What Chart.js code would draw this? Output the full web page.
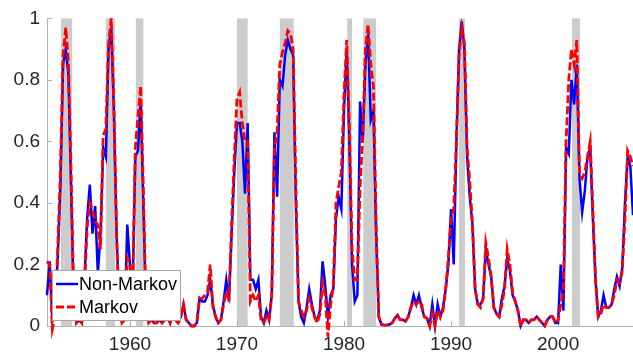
<!DOCTYPE html>
<html>
<head>
<meta charset="utf-8">
<script src="https://cdn.jsdelivr.net/npm/chart.js@4.4.1/dist/chart.umd.min.js"></script>
<style>
  html, body { margin: 0; padding: 0; background: #fff; }
  #wrap { width: 633px; height: 363px; }
</style>
</head>
<body>
<div id="wrap"><canvas id="chart1" width="633" height="363"></canvas></div>
<script>
// quarterly series, first quarter 1952Q2
const startYear = 1952.25;

const nonMarkov = [
  0.10, 0.21, 0.02, 0.05, 0.22, 0.45, 0.85, 0.90, 0.82, 0.45,
  0.08, 0.01, 0.02, 0.01, 0.15, 0.35, 0.46, 0.30, 0.39, 0.17,
  0.30, 0.58, 0.55, 0.90, 0.97, 0.70, 0.30, 0.05, 0.02, 0.02,
  0.33, 0.20, 0.12, 0.55, 0.57, 0.73, 0.40, 0.05, 0.02, 0.02,
  0.01, 0.01, 0.02, 0.01, 0.02, 0.03, 0.01, 0.04, 0.02, 0.01,
  0.03, 0.07, 0.02, 0.01, 0.00, 0.00, 0.01, 0.09, 0.08, 0.08,
  0.10, 0.15, 0.07, 0.03, 0.01, 0.02, 0.08, 0.15, 0.08, 0.30,
  0.50, 0.66, 0.66, 0.60, 0.43, 0.66, 0.15, 0.15, 0.12, 0.15,
  0.03, 0.01, 0.05, 0.02, 0.10, 0.63, 0.42, 0.80, 0.78, 0.88,
  0.93, 0.90, 0.88, 0.40, 0.08, 0.03, 0.01, 0.06, 0.12, 0.07,
  0.03, 0.02, 0.05, 0.21, 0.13, 0.03, 0.10, 0.12, 0.35, 0.42,
  0.38, 0.70, 0.90, 0.60, 0.20, 0.08, 0.10, 0.73, 0.60, 0.85,
  0.95, 0.67, 0.70, 0.30, 0.03, 0.005, 0.003, 0.003, 0.005, 0.01,
  0.025, 0.035, 0.02, 0.02, 0.015, 0.03, 0.06, 0.10, 0.07, 0.10,
  0.06, 0.03, 0.025, 0.00, 0.07, 0.00, 0.07, 0.03, 0.06, 0.12,
  0.20, 0.38, 0.20, 0.60, 0.90, 0.99, 0.90, 0.55, 0.42, 0.33,
  0.12, 0.07, 0.07, 0.09, 0.25, 0.20, 0.16, 0.06, 0.04, 0.03,
  0.09, 0.13, 0.22, 0.18, 0.10, 0.08, 0.05, 0.00, 0.02, 0.02,
  0.01, 0.02, 0.02, 0.03, 0.02, 0.01, 0.00, 0.02, 0.03, 0.03,
  0.01, 0.01, 0.20, 0.05, 0.58, 0.56, 0.80, 0.72, 0.85, 0.48,
  0.37, 0.44, 0.55, 0.58, 0.35, 0.15, 0.03, 0.05, 0.10, 0.06,
  0.06, 0.07, 0.12, 0.16, 0.13, 0.19, 0.40, 0.55, 0.52, 0.36
];

const markov = [
  0.21, 0.20, -0.01, 0.03, 0.25, 0.50, 0.88, 0.97, 0.86, 0.50,
  0.10, 0.01, 0.02, 0.01, 0.13, 0.32, 0.40, 0.38, 0.34, 0.33,
  0.25, 0.62, 0.64, 0.92, 1.00, 0.72, 0.30, 0.05, 0.01, 0.02,
  0.22, 0.20, 0.10, 0.58, 0.68, 0.78, 0.45, 0.05, 0.01, 0.02,
  0.01, 0.01, 0.02, 0.01, 0.02, 0.03, 0.01, 0.04, 0.02, 0.01,
  0.03, 0.07, 0.02, 0.01, 0.00, 0.00, 0.01, 0.09, 0.09, 0.10,
  0.11, 0.20, 0.06, 0.03, 0.01, 0.02, 0.07, 0.11, 0.09, 0.33,
  0.55, 0.74, 0.76, 0.66, 0.60, 0.60, 0.08, 0.10, 0.08, 0.10,
  0.02, 0.01, 0.03, 0.02, 0.10, 0.58, 0.63, 0.85, 0.89, 0.92,
  0.96, 0.95, 0.90, 0.45, 0.08, 0.05, 0.03, 0.05, 0.09, 0.06,
  0.03, 0.01, 0.04, 0.14, 0.10, -0.035, 0.07, 0.13, 0.40, 0.45,
  0.50, 0.75, 0.93, 0.65, 0.25, 0.15, 0.15, 0.45, 0.62, 0.90,
  0.98, 0.85, 0.78, 0.33, 0.03, 0.005, 0.003, 0.003, 0.005, 0.01,
  0.025, 0.035, 0.02, 0.02, 0.015, 0.03, 0.06, 0.08, 0.07, 0.08,
  0.07, 0.03, 0.025, 0.00, 0.04, 0.00, 0.05, 0.03, 0.05, 0.12,
  0.22, 0.35, 0.38, 0.60, 0.88, 0.97, 0.92, 0.58, 0.47, 0.33,
  0.12, 0.07, 0.06, 0.09, 0.27, 0.22, 0.16, 0.06, 0.04, 0.03,
  0.07, 0.12, 0.25, 0.20, 0.11, 0.08, 0.05, 0.00, 0.02, 0.02,
  0.01, 0.02, 0.02, 0.03, 0.02, 0.01, 0.00, 0.02, 0.03, 0.03,
  0.01, 0.02, 0.07, 0.12, 0.60, 0.80, 0.90, 0.85, 0.93, 0.50,
  0.48, 0.50, 0.55, 0.60, 0.38, 0.15, 0.03, 0.04, 0.07, 0.06,
  0.06, 0.07, 0.10, 0.15, 0.14, 0.18, 0.35, 0.57, 0.55, 0.52
];

// shaded recession periods [start, end]
const recessions = [
  [1953.55, 1954.6], [1957.75, 1958.6], [1960.55, 1961.25],
  [1970.0, 1971.0], [1974.0, 1975.3], [1980.3, 1980.75],
  [1981.8, 1983.0], [1990.75, 1991.3], [2001.3, 2002.05]
];

const xTicks = [1960, 1970, 1980, 1990, 2000];
const yTicks = [0, 0.2, 0.4, 0.6, 0.8, 1];

const toPoints = arr => arr.map((v, i) => ({ x: startYear + i / 4, y: v }));

const axisColor = '#b3b3b3';
const labelFont = { family: 'Liberation Sans, Arial, sans-serif', size: 19 };

const shading = {
    id: 'shading',
    beforeDatasetsDraw(chart) {
        const { ctx, chartArea, scales } = chart;
        ctx.save();
        ctx.fillStyle = '#cccccc';
        recessions.forEach(([a, b]) => {
            const x0 = scales.x.getPixelForValue(a);
            const x1 = scales.x.getPixelForValue(b);
            ctx.fillRect(x0, chartArea.top, x1 - x0, chartArea.bottom - chartArea.top);
        });
        // inward tick marks
        ctx.strokeStyle = axisColor;
        ctx.lineWidth = 1;
        ctx.beginPath();
        xTicks.forEach(t => {
            const x = Math.round(scales.x.getPixelForValue(t)) + 0.5;
            ctx.moveTo(x, chartArea.bottom);
            ctx.lineTo(x, chartArea.bottom - 5);
        });
        yTicks.forEach(t => {
            const y = Math.round(scales.y.getPixelForValue(t)) + 0.5;
            ctx.moveTo(chartArea.left, y);
            ctx.lineTo(chartArea.left + 5, y);
        });
        ctx.stroke();
        ctx.restore();
    }
};

const legendBox = {
    id: 'legendBox',
    afterDraw(chart) {
        const ctx = chart.ctx;
        ctx.save();
        ctx.fillStyle = '#ffffff';
        ctx.fillRect(52, 270, 128, 50);
        ctx.strokeStyle = '#a6a6a6';
        ctx.lineWidth = 1;
        ctx.strokeRect(52.5, 270.5, 128, 50);

        ctx.lineWidth = 2.5;
        ctx.strokeStyle = '#0000ff';
        ctx.beginPath();
        ctx.moveTo(56, 284);
        ctx.lineTo(78, 284);
        ctx.stroke();

        ctx.lineWidth = 2.8;
        ctx.strokeStyle = '#ff0000';
        ctx.setLineDash([8, 3]);
        ctx.beginPath();
        ctx.moveTo(56, 307);
        ctx.lineTo(78, 307);
        ctx.stroke();
        ctx.setLineDash([]);

        ctx.fillStyle = '#000000';
        ctx.font = '18px "Liberation Sans", Arial, sans-serif';
        ctx.textBaseline = 'middle';
        ctx.fillText('Non-Markov', 79, 285);
        ctx.fillText('Markov', 79, 308);
        ctx.restore();
    }
};

const ctx = document.getElementById('chart1').getContext('2d');

const chart1 = new Chart(ctx, {
    type: 'line',
    data: {
        datasets: [{
            label: 'Non-Markov',
            data: toPoints(nonMarkov),
            borderColor: '#0000ff',
            borderWidth: 2.5,
            pointRadius: 0,
            tension: 0,
            clip: false,
            order: 2
        }, {
            label: 'Markov',
            data: toPoints(markov),
            borderColor: '#ff0000',
            borderWidth: 2.8,
            borderDash: [8, 3],
            pointRadius: 0,
            tension: 0,
            clip: false,
            order: 1
        }]
    },
    options: {
        responsive: false,
        animation: false,
        layout: { padding: { top: 13, right: 0, left: 0, bottom: 0 } },
        plugins: {
            legend: { display: false },
            tooltip: { enabled: false }
        },
        scales: {
            x: {
                type: 'linear',
                min: startYear,
                max: 2007.0,
                afterBuildTicks: scale => { scale.ticks = xTicks.map(v => ({ value: v })); },
                afterFit: scale => { scale.height = 37; },
                grid: { display: false, drawTicks: false },
                border: { color: axisColor },
                ticks: {
                    callback: v => String(v),
                    color: '#262626',
                    font: labelFont,
                    padding: 7,
                    maxRotation: 0
                }
            },
            y: {
                min: 0,
                max: 1,
                afterBuildTicks: scale => { scale.ticks = yTicks.map(v => ({ value: v })); },
                afterFit: scale => { scale.width = 47; },
                grid: { display: false, drawTicks: false },
                border: { color: axisColor },
                ticks: {
                    callback: v => String(v),
                    color: '#262626',
                    font: labelFont,
                    padding: 7
                }
            }
        }
    },
    plugins: [shading, legendBox]
});
</script>
</body>
</html>
